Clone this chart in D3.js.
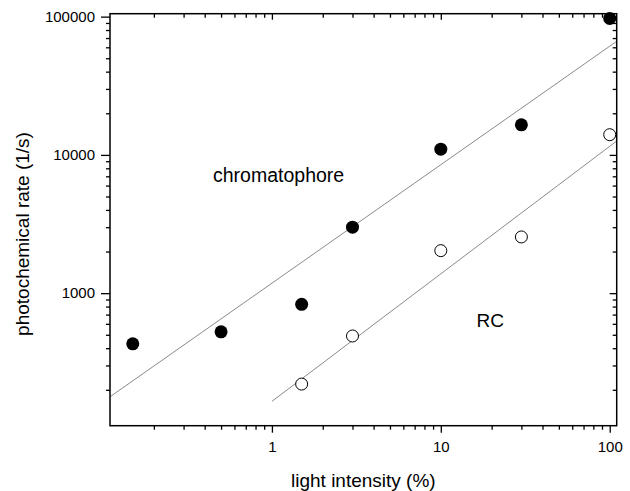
<!DOCTYPE html>
<html>
<head>
<meta charset="utf-8">
<script src="https://cdn.jsdelivr.net/npm/d3@7"></script>
<style>
  body { margin: 0; background: #fff; }
  text { font-family: "Liberation Sans", Arial, sans-serif; }
</style>
</head>
<body>
<div id="chart"></div>
<script>
var width = 630;
var height = 491;

// data
var chromIntensity = [0.15, 0.5, 1.5, 3, 10, 30, 100];
var chromRate = [430, 525, 830, 3000, 11000, 16500, 97000];
var rcIntensity = [1.5, 3, 10, 30, 100];
var rcRate = [220, 490, 2030, 2550, 14000];
// fitted lines (end points)
var chromFitX = [0.11, 110];
var chromFitY = [178, 66300];
var rcFitX = [1, 110];
var rcFitY = [165, 12600];

var xTickValues = [1, 10, 100];
var yTickValues = [1000, 10000, 100000];

var plotLeft = 110, plotRight = 616.7, plotTop = 13.7, plotBottom = 425.7;

var x = d3.scaleLog().domain([0.11, 110]).range([plotLeft, plotRight]);
var y = d3.scaleLog().domain([110, 105000]).range([plotBottom, plotTop]);

var xMinor = [], yMinor = [];
[0.1, 1, 10].forEach(function(d) {
  for (var k = 2; k <= 9; k++) xMinor.push(d * k);
});
[100, 1000, 10000].forEach(function(d) {
  for (var k = 2; k <= 9; k++) yMinor.push(d * k);
});

var svg = d3.select("#chart").append("svg")
  .attr("width", width)
  .attr("height", height);

// fit lines
var line = d3.line()
  .x(function(d) { return x(d[0]); })
  .y(function(d) { return y(d[1]); });

svg.append("path")
  .attr("d", line(d3.zip(chromFitX, chromFitY)))
  .attr("fill", "none")
  .attr("stroke", "#8a8a8a")
  .attr("stroke-width", 1);

svg.append("path")
  .attr("d", line(d3.zip(rcFitX, rcFitY)))
  .attr("fill", "none")
  .attr("stroke", "#8a8a8a")
  .attr("stroke-width", 1);

// axes: outer ticks on bottom/left, inner on top/right
function drawAxis(axis, tr) {
  var g = svg.append("g").attr("transform", tr).call(axis);
  g.select(".domain").remove();
  g.selectAll("line").attr("stroke", "#000").attr("stroke-width", 1.3);
  g.selectAll("text")
    .attr("fill", "#000")
    .style("font-size", "15px")
    .style("font-family", "Liberation Sans, Arial, sans-serif");
  return g;
}

var fmt = function(d) { return d3.format("d")(d); };

drawAxis(d3.axisBottom(x).tickValues(xTickValues).tickSize(7).tickPadding(9).tickFormat(fmt),
  "translate(0," + plotBottom + ")");
drawAxis(d3.axisBottom(x).tickValues(xMinor).tickSize(4).tickFormat(""),
  "translate(0," + plotBottom + ")");
drawAxis(d3.axisLeft(y).tickValues(yTickValues).tickSize(9).tickPadding(6).tickFormat(fmt),
  "translate(" + plotLeft + ",0)");
drawAxis(d3.axisLeft(y).tickValues(yMinor).tickSize(4).tickFormat(""),
  "translate(" + plotLeft + ",0)");
drawAxis(d3.axisBottom(x).tickValues(xTickValues).tickSize(6).tickFormat(""),
  "translate(0," + plotTop + ")");
drawAxis(d3.axisBottom(x).tickValues(xMinor).tickSize(4).tickFormat(""),
  "translate(0," + plotTop + ")");
drawAxis(d3.axisLeft(y).tickValues(yTickValues).tickSize(7).tickFormat(""),
  "translate(" + plotRight + ",0)");
drawAxis(d3.axisLeft(y).tickValues(yMinor).tickSize(4).tickFormat(""),
  "translate(" + plotRight + ",0)");

svg.append("rect")
  .attr("x", plotLeft).attr("y", plotTop)
  .attr("width", plotRight - plotLeft).attr("height", plotBottom - plotTop)
  .attr("fill", "none")
  .attr("stroke", "#000")
  .attr("stroke-width", 1.5);

// points
svg.selectAll("circle.rc")
  .data(d3.zip(rcIntensity, rcRate))
  .enter().append("circle")
  .attr("class", "rc")
  .attr("cx", function(d) { return x(d[0]); })
  .attr("cy", function(d) { return y(d[1]); })
  .attr("r", 6)
  .attr("fill", "#fff")
  .attr("stroke", "#000")
  .attr("stroke-width", 1);

svg.selectAll("circle.chrom")
  .data(d3.zip(chromIntensity, chromRate))
  .enter().append("circle")
  .attr("class", "chrom")
  .attr("cx", function(d) { return x(d[0]); })
  .attr("cy", function(d) { return y(d[1]); })
  .attr("r", 6.5)
  .attr("fill", "#000");

// labels
svg.append("text")
  .attr("x", 213).attr("y", 182)
  .style("font-size", "19.5px")
  .text("chromatophore");

svg.append("text")
  .attr("x", 476.5).attr("y", 327)
  .style("font-size", "19px")
  .text("RC");

svg.append("text")
  .attr("x", (plotLeft + plotRight) / 2).attr("y", 487)
  .attr("text-anchor", "middle")
  .style("font-size", "19px")
  .text("light intensity (%)");

svg.append("text")
  .attr("transform", "translate(29,234) rotate(-90)")
  .attr("text-anchor", "middle")
  .style("font-size", "19px")
  .text("photochemical rate (1/s)");
</script>
</body>
</html>
